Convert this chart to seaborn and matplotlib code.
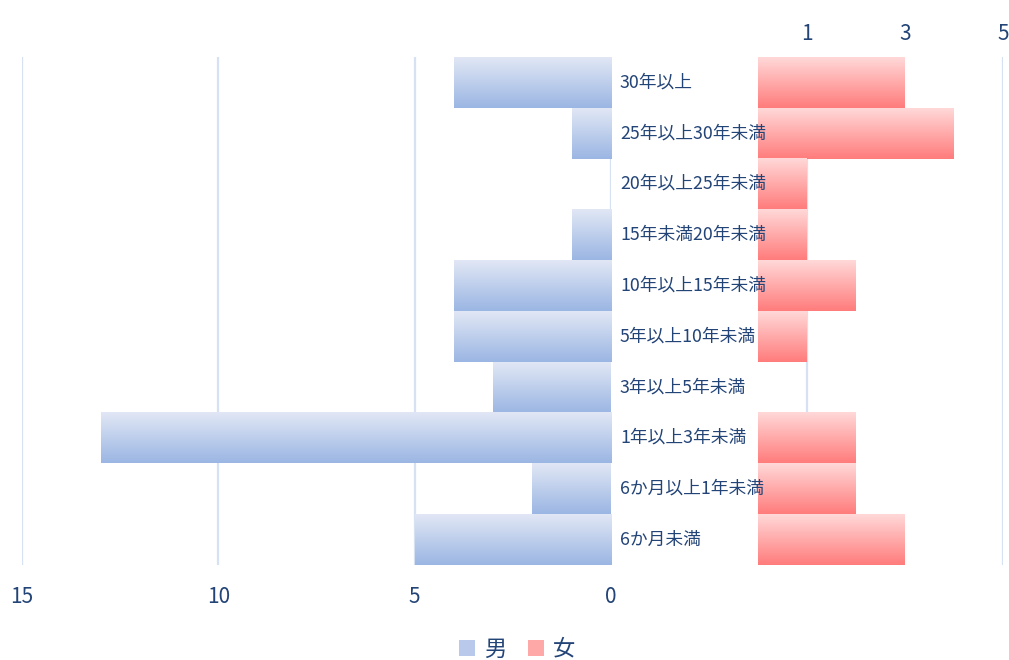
import numpy as np
import pandas as pd
import matplotlib
matplotlib.use("Agg")
import matplotlib.pyplot as plt
import matplotlib.transforms as mtrans
from matplotlib.patches import Patch
from matplotlib.colors import to_rgb
import seaborn as sns

categories = ["30年以上", "25年以上30年未満", "20年以上25年未満", "15年未満20年未満",
              "10年以上15年未満", "5年以上10年未満", "3年以上5年未満", "1年以上3年未満",
              "6か月以上1年未満", "6か月未満"]
male = [4, 1, 0, 1, 4, 4, 3, 13, 2, 5]
female = [3, 4, 1, 1, 2, 1, 0, 2, 2, 3]
left_ticks = [15, 10, 5, 0]
right_ticks = [1, 3, 5]
series_names = ["男", "女"]

sns.set_theme(style="white")
FONT = ["Noto Sans CJK JP", "DejaVu Sans"]
plt.rcParams["font.family"] = FONT
TXT = "#234477"
GRID = "#D6E2F3"
BLUE_TOP, BLUE_BOT = "#E1E7F5", "#9BB6E3"
RED_TOP, RED_BOT = "#FFD8D8", "#FF7C7C"

df = pd.DataFrame({"cat": categories, "male": male, "female": female})

W, H = 1009, 660
fig = plt.figure(figsize=(W / 100, H / 100), dpi=100)
y_top, y_bot = 57, 565
axL = fig.add_axes([22 / W, 1 - y_bot / H, (611 - 22) / W, (y_bot - y_top) / H])
axR = fig.add_axes([758 / W, 1 - y_bot / H, (1003 - 758) / W, (y_bot - y_top) / H])

sns.barplot(data=df, y="cat", x="male", ax=axL, orient="h", width=1.0, color=BLUE_BOT, zorder=2)
sns.barplot(data=df, y="cat", x="female", ax=axR, orient="h", width=1.0, color=RED_BOT, zorder=2)


def gradientize(ax, top, bot):
    t = np.array(to_rgb(top)); b = np.array(to_rgb(bot))
    n = 64
    grad = np.linspace(0, 1, n)[:, None, None] * (b - t) + t
    for p in list(ax.patches):
        x0, y0, w, h = p.get_x(), p.get_y(), p.get_width(), p.get_height()
        if w == 0:
            p.set_visible(False)
            continue
        ax.imshow(grad, extent=(x0, x0 + w, y0 + h, y0), aspect="auto",
                  origin="upper", zorder=2, interpolation="bilinear")
        p.set_visible(False)


gradientize(axL, BLUE_TOP, BLUE_BOT)
gradientize(axR, RED_TOP, RED_BOT)

n = len(categories)
for ax in (axL, axR):
    ax.set_ylim(n - 0.5, -0.5)
    ax.set_ylabel("")
    ax.set_xlabel("")
    ax.set_yticks([])
    for s in ax.spines.values():
        s.set_visible(False)
    ax.set_facecolor("none")

axL.set_xlim(15, 0)
axL.set_xticks(left_ticks)
axL.set_xticklabels([str(v) for v in left_ticks])
for v in left_ticks:
    axL.axvline(v, color=GRID, lw=1.6, zorder=1)
axL.tick_params(axis="x", length=0, pad=15, labelsize=15, labelcolor=TXT)

axR.set_xlim(0, 5)
axR.set_xticks(right_ticks)
axR.xaxis.tick_top()
axR.tick_params(axis="x", length=0, pad=9, labelsize=15, labelcolor=TXT)
for v in (1, 5):
    axR.axvline(v, color=GRID, lw=1.6, zorder=1)
for lbl in axL.get_xticklabels() + axR.get_xticklabels():
    lbl.set_fontfamily(FONT)

tr = mtrans.blended_transform_factory(fig.transFigure, axL.transData)
for i, c in enumerate(categories):
    fig.text(620 / W, i, c, transform=tr, ha="left", va="center",
             fontsize=12.8, color=TXT, zorder=5, fontfamily=FONT)

handles = [Patch(facecolor="#B8C9EB", edgecolor="none"), Patch(facecolor="#FFA8A8", edgecolor="none")]
leg = fig.legend(handles, series_names, loc="center", bbox_to_anchor=(517 / W, 1 - 649 / H),
                 ncol=2, frameon=False, fontsize=16, handlelength=0.7, handleheight=0.7,
                 handletextpad=0.4, columnspacing=1.0)
for t in leg.get_texts():
    t.set_color(TXT)

fig.savefig("out.png", dpi=100)
